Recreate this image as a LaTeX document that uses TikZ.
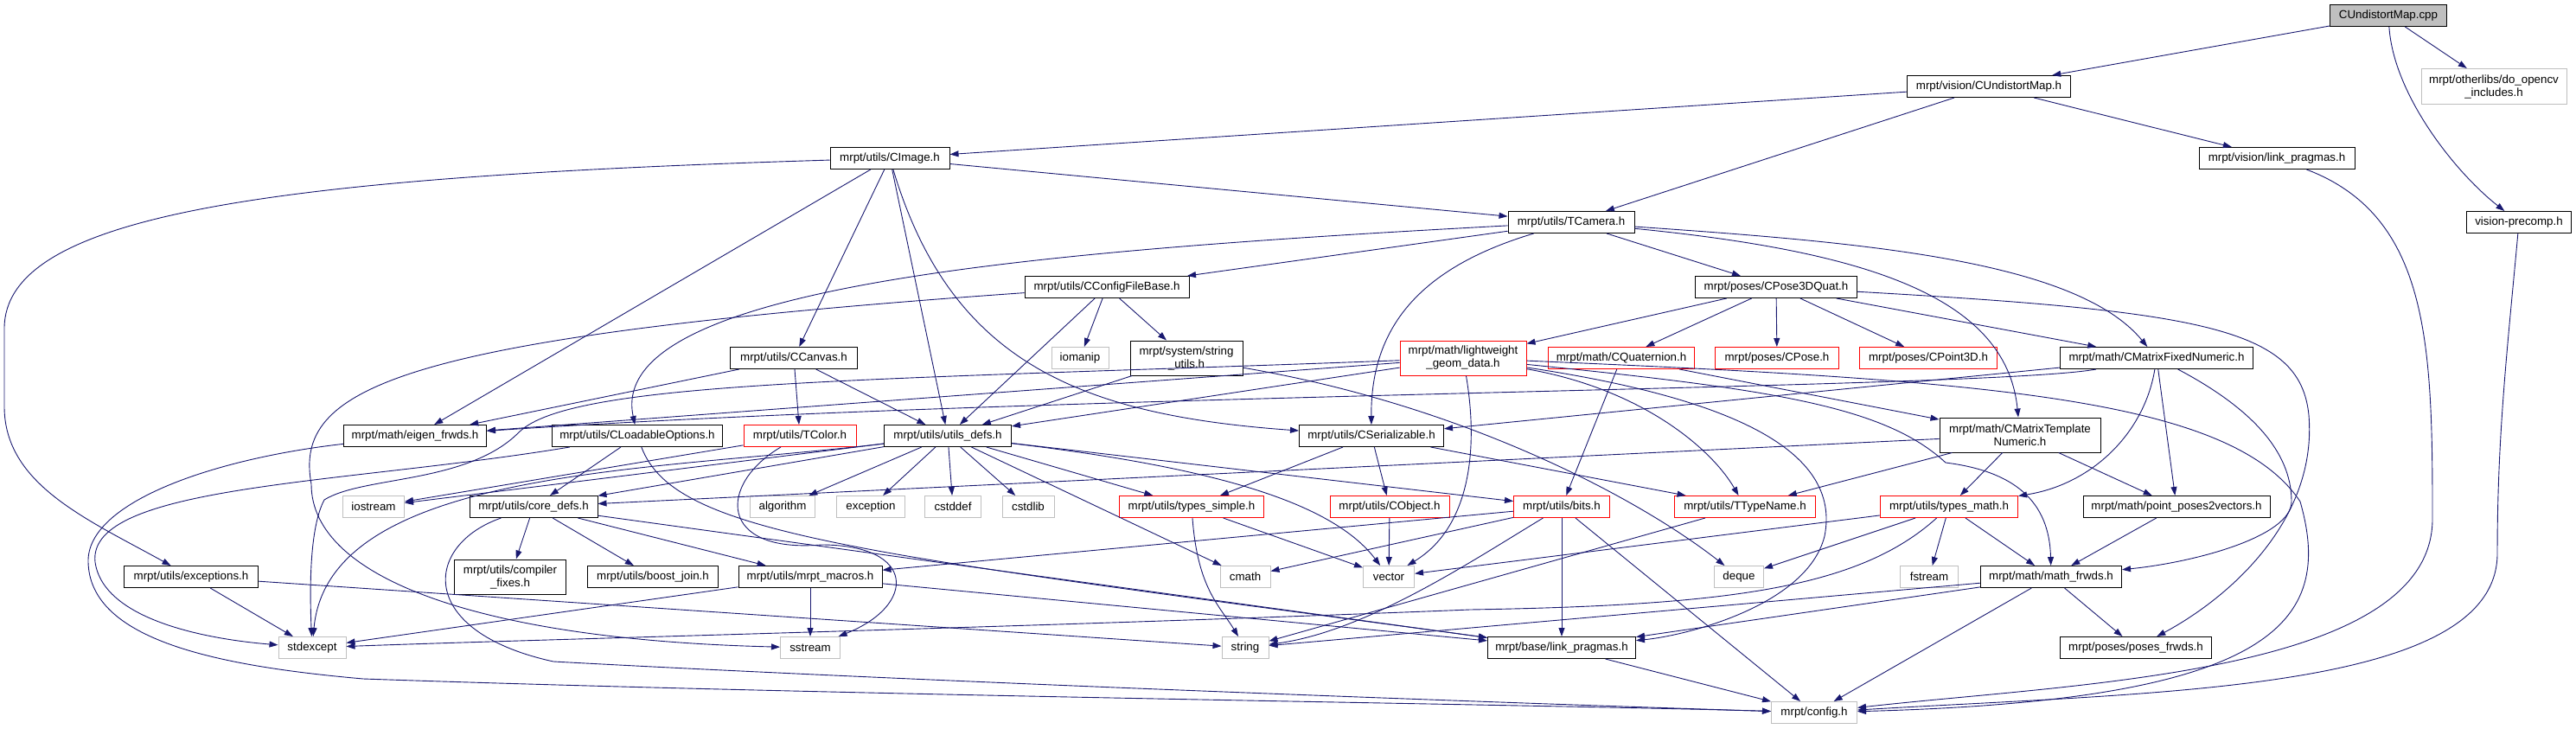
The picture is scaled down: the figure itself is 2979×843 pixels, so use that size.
\documentclass[tikz,border=0pt]{standalone}
\usepackage{fontspec}
\setmainfont{Liberation Sans}
\usetikzlibrary{arrows.meta}
\definecolor{edgeblue}{HTML}{191970}
\definecolor{sysgray}{HTML}{BFBFBF}
\begin{document}
\begin{tikzpicture}[x=1bp, y=-1bp, font=\fontsize{13.33bp}{15bp}\selectfont,
fnode/.style={draw=black, line width=1bp, minimum height=25bp, inner sep=0pt, align=center},
fred/.style={fnode, draw=red},
fsys/.style={fnode, draw=sysgray},
dep/.style={edgeblue, line width=0.9bp, -{Triangle[length=10bp,width=7bp]}}]
\useasboundingbox (0,0) rectangle (2979,843);
\node[fnode, fill=sysgray, minimum width=135bp] (fid0) at (2762,18){CUndistortMap.cpp};
\node[fnode, minimum width=189bp] (fid1) at (2300,100){mrpt/vision/CUndistortMap.h};
\node[fsys, minimum width=168bp, minimum height=41bp] (fid2) at (2884,100){mrpt/otherlibs/do\_opencv\\\_includes.h};
\draw[dep](fid0) -- (fid1);
\draw[dep](fid0) -- (fid2);
\node[fnode, minimum width=180bp] (fid3) at (2633,183){mrpt/vision/link\_pragmas.h};
\node[fnode, minimum width=138bp] (fid5) at (1029,183){mrpt/utils/CImage.h};
\draw[dep](fid1) -- (fid3);
\draw[dep](fid1) -- (fid5);
\node[fnode, minimum width=121bp] (fid4) at (2913,257){vision-precomp.h};
\node[fnode, minimum width=146bp] (fid6) at (1817,257){mrpt/utils/TCamera.h};
\draw[dep](fid0) .. controls (2768,110) and (2840,200) .. (fid4);
\draw[dep](fid1) -- (fid6);
\draw[dep](fid5) -- (fid6);
\node[fnode, minimum width=190bp] (fid7) at (1280,332){mrpt/utils/CConfigFileBase.h};
\node[fnode, minimum width=187bp] (fid8) at (2054,332){mrpt/poses/CPose3DQuat.h};
\draw[dep](fid6) -- (fid7);
\draw[dep](fid6) -- (fid8);
\node[fnode, minimum width=147bp] (fid9) at (918,414){mrpt/utils/CCanvas.h};
\node[fsys, minimum width=66bp] (fid10) at (1249,414){iomanip};
\node[fnode, minimum width=130bp, minimum height=40bp] (fid11) at (1372,414){mrpt/system/string\\\_utils.h};
\node[fred, minimum width=146bp, minimum height=40bp] (fid12) at (1692,414){mrpt/math/lightweight\\\_geom\_data.h};
\node[fred, minimum width=169bp] (fid13) at (1875,414){mrpt/math/CQuaternion.h};
\node[fred, minimum width=143bp] (fid14) at (2055,414){mrpt/poses/CPose.h};
\node[fred, minimum width=159bp] (fid15) at (2230,414){mrpt/poses/CPoint3D.h};
\node[fnode, minimum width=223bp] (fid16) at (2494,414){mrpt/math/CMatrixFixedNumeric.h};
\draw[dep](fid5) -- (fid9);
\draw[dep](fid7) -- (fid10);
\draw[dep](fid7) -- (fid11);
\draw[dep](fid8) -- (fid12);
\draw[dep](fid8) -- (fid13);
\draw[dep](fid8) -- (fid14);
\draw[dep](fid8) -- (fid15);
\draw[dep](fid8) -- (fid16);
\draw[dep](fid6) .. controls (2150,280) and (2400,300) .. (fid16);
\node[fnode, minimum width=165bp] (fid17) at (480,504){mrpt/math/eigen\_frwds.h};
\node[fnode, minimum width=197bp] (fid18) at (737,504){mrpt/utils/CLoadableOptions.h};
\node[fred, minimum width=130bp] (fid19) at (925,504){mrpt/utils/TColor.h};
\node[fnode, minimum width=147bp] (fid20) at (1096,504){mrpt/utils/utils\_defs.h};
\node[fnode, minimum width=167bp] (fid21) at (1586,504){mrpt/utils/CSerializable.h};
\node[fnode, minimum width=186bp, minimum height=40bp] (fid22) at (2336,503){mrpt/math/CMatrixTemplate\\Numeric.h};
\draw[dep](fid5) -- (fid17);
\draw[dep](fid9) -- (fid17);
\draw[dep](fid12) -- (fid17);
\draw[dep](fid16) .. controls (2300,450) and (1200,455) .. (fid17);
\draw[dep](fid6) .. controls (1200,290) and (700,330) .. (fid18);
\draw[dep](fid9) -- (fid19);
\draw[dep](fid5) -- (fid20);
\draw[dep](fid7) -- (fid20);
\draw[dep](fid9) -- (fid20);
\draw[dep](fid11) -- (fid20);
\draw[dep](fid12) -- (fid20);
\draw[dep](fid5) .. controls (1100,420) and (1250,480) .. (fid21);
\draw[dep](fid6) .. controls (1640,310) and (1585,380) .. (fid21);
\draw[dep](fid16) -- (fid21);
\draw[dep](fid6) .. controls (2150,290) and (2320,340) .. (fid22);
\draw[dep](fid13) -- (fid22);
\node[fsys, minimum width=71bp] (fid23) at (432,586){iostream};
\node[fnode, minimum width=148bp] (fid24) at (617,586){mrpt/utils/core\_defs.h};
\node[fsys, minimum width=75bp] (fid25) at (905,586){algorithm};
\node[fsys, minimum width=79bp] (fid26) at (1007,586){exception};
\node[fsys, minimum width=65bp] (fid27) at (1102,586){cstddef};
\node[fsys, minimum width=60bp] (fid28) at (1189,586){cstdlib};
\node[fred, minimum width=167bp] (fid29) at (1378,586){mrpt/utils/types\_simple.h};
\node[fred, minimum width=138bp] (fid30) at (1607,586){mrpt/utils/CObject.h};
\node[fred, minimum width=111bp] (fid31) at (1806,586){mrpt/utils/bits.h};
\node[fred, minimum width=163bp] (fid32) at (2018,586){mrpt/utils/TTypeName.h};
\node[fred, minimum width=159bp] (fid33) at (2254,586){mrpt/utils/types\_math.h};
\node[fnode, minimum width=216bp] (fid34) at (2517,586){mrpt/math/point\_poses2vectors.h};
\draw[dep](fid19) -- (fid23);
\draw[dep](fid20) -- (fid23);
\draw[dep](fid18) -- (fid24);
\draw[dep](fid20) -- (fid24);
\draw[dep](fid22) -- (fid24);
\draw[dep](fid20) -- (fid25);
\draw[dep](fid20) -- (fid26);
\draw[dep](fid20) -- (fid27);
\draw[dep](fid20) -- (fid28);
\draw[dep](fid20) -- (fid29);
\draw[dep](fid21) -- (fid29);
\draw[dep](fid21) -- (fid30);
\draw[dep](fid13) -- (fid31);
\draw[dep](fid20) -- (fid31);
\draw[dep](fid12) .. controls (1900,450) and (1980,520) .. (fid32);
\draw[dep](fid21) -- (fid32);
\draw[dep](fid22) -- (fid32);
\draw[dep](fid16) .. controls (2480,500) and (2420,560) .. (fid33);
\draw[dep](fid22) -- (fid33);
\draw[dep](fid16) -- (fid34);
\draw[dep](fid22) -- (fid34);
\node[fnode, minimum width=155bp] (fid35) at (221,667){mrpt/utils/exceptions.h};
\node[fnode, minimum width=129bp, minimum height=40bp] (fid36) at (590,667){mrpt/utils/compiler\\\_fixes.h};
\node[fnode, minimum width=151bp] (fid37) at (755,667){mrpt/utils/boost\_join.h};
\node[fnode, minimum width=166bp] (fid38) at (937,667){mrpt/utils/mrpt\_macros.h};
\node[fsys, minimum width=58bp] (fid39) at (1440,667){cmath};
\node[fsys, minimum width=59bp] (fid40) at (1606,667){vector};
\node[fsys, minimum width=57bp] (fid41) at (2011,667){deque};
\node[fsys, minimum width=67bp] (fid42) at (2231,667){fstream};
\node[fnode, minimum width=163bp] (fid43) at (2372,667){mrpt/math/math\_frwds.h};
\draw[dep](fid5) .. controls (300,205) and (5,250) .. (5,380) -- (5,470) .. controls (5,560) and (100,600) .. (fid35);
\draw[dep](fid24) -- (fid36);
\draw[dep](fid24) -- (fid37);
\draw[dep](fid24) -- (fid38);
\draw[dep](fid31) -- (fid38);
\draw[dep](fid20) -- (fid39);
\draw[dep](fid31) -- (fid39);
\draw[dep](fid12) .. controls (1710,520) and (1700,610) .. (fid40);
\draw[dep](fid20) .. controls (1400,540) and (1540,580) .. (fid40);
\draw[dep](fid29) -- (fid40);
\draw[dep](fid30) -- (fid40);
\draw[dep](fid33) -- (fid40);
\draw[dep](fid11) .. controls (1700,470) and (1900,580) .. (fid41);
\draw[dep](fid33) -- (fid41);
\draw[dep](fid33) -- (fid42);
\draw[dep](fid12) .. controls (2050,450) and (2180,470) .. (2250,535) .. controls (2330,545) and (2370,580) .. (fid43);
\draw[dep](fid16) .. controls (2600,470) and (2650,520) .. (2650,580) .. controls (2650,620) and (2540,650) .. (fid43);
\draw[dep](fid33) -- (fid43);
\draw[dep](fid34) -- (fid43);
\node[fsys, minimum width=78bp] (fid44) at (361,749){stdexcept};
\node[fsys, minimum width=69bp] (fid45) at (937,749){sstream};
\node[fsys, minimum width=54bp] (fid46) at (1440,749){string};
\node[fnode, minimum width=171bp] (fid47) at (1806,749){mrpt/base/link\_pragmas.h};
\node[fnode, minimum width=175bp] (fid48) at (2470,749){mrpt/poses/poses\_frwds.h};
\draw[dep](fid12) .. controls (1000,440) and (660,440) .. (600,500) .. controls (540,560) and (420,550) .. (375,578) .. controls (358,610) and (358,680) .. (fid44);
\draw[dep](fid18) .. controls (400,560) and (100,560) .. (110,650) .. controls (120,720) and (250,740) .. (fid44);
\draw[dep](fid20) .. controls (760,545) and (380,540) .. (fid44);
\draw[dep](fid33) .. controls (2150,680) and (2000,700) .. (1700,705) .. controls (1200,725) and (600,740) .. (fid44);
\draw[dep](fid35) -- (fid44);
\draw[dep](fid38) -- (fid44);
\draw[dep](fid7) .. controls (450,390) and (340,450) .. (360,560) .. controls (360,670) and (560,740) .. (fid45);
\draw[dep](fid19) .. controls (830,560) and (830,640) .. (950,630) .. controls (1060,630) and (1060,700) .. (fid45);
\draw[dep](fid38) -- (fid45);
\draw[dep](fid29) .. controls (1385,680) and (1410,700) .. (fid46);
\draw[dep](fid31) .. controls (1700,650) and (1580,730) .. (fid46);
\draw[dep](fid32) -- (fid46);
\draw[dep](fid35) -- (fid46);
\draw[dep](fid43) -- (fid46);
\draw[dep](fid12) .. controls (2000,460) and (2130,520) .. (2110,620) .. controls (2090,700) and (1950,735) .. (fid47);
\draw[dep](fid18) .. controls (780,620) and (1000,640) .. (fid47);
\draw[dep](fid24) -- (fid47);
\draw[dep](fid31) -- (fid47);
\draw[dep](fid38) -- (fid47);
\draw[dep](fid43) -- (fid47);
\draw[dep](fid8) .. controls (2550,360) and (2660,380) .. (2670,480) .. controls (2680,600) and (2580,690) .. (fid48);
\draw[dep](fid43) -- (fid48);
\node[fsys, minimum width=99bp] (fid49) at (2098,824){mrpt/config.h};
\draw[dep](fid3) .. controls (2810,250) and (2813,400) .. (2813,600) .. controls (2813,780) and (2400,790) .. (fid49);
\draw[dep](fid4) .. controls (2900,400) and (2888,500) .. (2888,640) .. controls (2888,800) and (2500,800) .. (fid49);
\draw[dep](fid12) .. controls (2300,440) and (2580,460) .. (2660,580) .. controls (2700,720) and (2630,810) .. (fid49);
\draw[dep](fid17) .. controls (250,530) and (100,580) .. (102,650) .. controls (104,740) and (250,770) .. (420,785) .. controls (1000,805) and (1800,815) .. (fid49);
\draw[dep](fid24) .. controls (490,630) and (480,730) .. (640,765) .. controls (1100,790) and (1800,815) .. (fid49);
\draw[dep](fid31) -- (fid49);
\draw[dep](fid43) -- (fid49);
\draw[dep](fid47) -- (fid49);
\end{tikzpicture}
\end{document}
